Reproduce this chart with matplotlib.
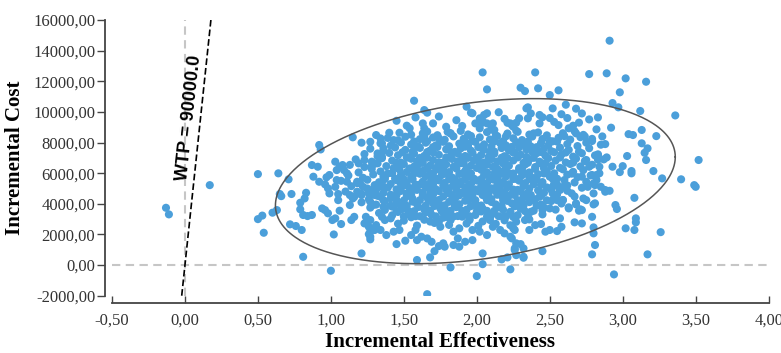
import math
import numpy as np
import matplotlib
matplotlib.use("Agg")
import matplotlib.pyplot as plt
from matplotlib.ticker import FuncFormatter

# --- chart values ---------------------------------------------------------
WTP = 90000.0
X_TICKS = [-0.5, 0.0, 0.5, 1.0, 1.5, 2.0, 2.5, 3.0, 3.5, 4.0]
Y_TICKS = [-2000, 0, 2000, 4000, 6000, 8000, 10000, 12000, 14000, 16000]

# confidence ellipse (centre, x radius, y amplitude on cos / sin)
ELL_CENTER = (1.99, 5480)
ELL_RX = 1.37
ELL_RY_COS = 1580
ELL_RY_SIN = 5150

# dense middle of the cloud, read band by band
core_pts = [
    (1.47, 8640), (1.55, 8510), (1.66, 8720), (1.73, 8480), (1.82, 8600), (1.89, 8760), (1.94, 8530),
    (2.07, 8680), (2.13, 8460), (2.21, 8590), (2.27, 8770), (2.36, 8520), (2.42, 8660), (2.48, 8470),
    (2.59, 8610), (2.67, 8740), (2.73, 8500),
    (1.39, 8300), (1.46, 8150), (1.51, 8380), (1.61, 8220), (1.66, 8090), (1.70, 8330), (1.78, 8180),
    (1.84, 8400), (1.91, 8250), (1.97, 8110), (2.02, 8340), (2.09, 8200), (2.14, 8420), (2.18, 8090),
    (2.25, 8280), (2.31, 8160), (2.38, 8390), (2.45, 8230), (2.50, 8100), (2.56, 8310), (2.64, 8190),
    (2.71, 8350), (2.79, 8240),
    (1.34, 7950), (1.41, 7800), (1.48, 8010), (1.55, 7870), (1.60, 7740), (1.65, 7990), (1.72, 7820),
    (1.77, 8050), (1.81, 7760), (1.88, 7930), (1.94, 7790), (1.99, 8040), (2.05, 7880), (2.10, 7740),
    (2.16, 7960), (2.20, 7810), (2.27, 8030), (2.32, 7880), (2.37, 7750), (2.44, 7970), (2.49, 7830),
    (2.55, 8060), (2.62, 7900), (2.69, 7770), (2.75, 7990), (2.85, 7860),
    (1.27, 7600), (1.36, 7450), (1.44, 7680), (1.51, 7520), (1.56, 7400), (1.61, 7650), (1.68, 7480),
    (1.73, 7710), (1.79, 7560), (1.85, 7390), (1.89, 7620), (1.96, 7470), (2.01, 7700), (2.05, 7530),
    (2.12, 7410), (2.17, 7640), (2.22, 7490), (2.29, 7690), (2.34, 7550), (2.38, 7390), (2.46, 7600),
    (2.51, 7440), (2.57, 7670), (2.63, 7520), (2.70, 7400), (2.77, 7630),
    (1.23, 7250), (1.32, 7100), (1.40, 7320), (1.46, 7170), (1.53, 7040), (1.57, 7290), (1.64, 7130),
    (1.70, 7360), (1.74, 7200), (1.81, 7050), (1.87, 7280), (1.92, 7120), (1.97, 7340), (2.03, 7190),
    (2.08, 7040), (2.12, 7270), (2.19, 7110), (2.25, 7350), (2.30, 7210), (2.34, 7060), (2.41, 7300),
    (2.47, 7140), (2.53, 7370), (2.58, 7220), (2.66, 7080), (2.72, 7300), (2.81, 7160),
    (1.17, 6900), (1.28, 6750), (1.35, 6980), (1.42, 6820), (1.48, 6690), (1.55, 6940), (1.59, 6780),
    (1.66, 7010), (1.70, 6860), (1.77, 6700), (1.83, 6930), (1.87, 6770), (1.94, 7000), (1.98, 6840),
    (2.05, 6690), (2.10, 6920), (2.14, 6760), (2.21, 6990), (2.25, 6830), (2.32, 6680), (2.36, 6910),
    (2.43, 6750), (2.49, 6980), (2.54, 6820), (2.61, 6700), (2.68, 6950), (2.74, 6790), (2.83, 6880),
    (1.13, 6540), (1.23, 6400), (1.30, 6620), (1.38, 6460), (1.46, 6340), (1.50, 6590), (1.57, 6430),
    (1.61, 6660), (1.68, 6500), (1.72, 6350), (1.79, 6580), (1.84, 6420), (1.89, 6650), (1.96, 6490),
    (2.00, 6340), (2.07, 6570), (2.11, 6410), (2.18, 6640), (2.22, 6480), (2.29, 6330), (2.33, 6560),
    (2.40, 6400), (2.44, 6630), (2.51, 6470), (2.57, 6350), (2.64, 6600), (2.71, 6440), (2.79, 6550),
    (1.09, 6200), (1.19, 6050), (1.28, 6270), (1.34, 6110), (1.42, 5990), (1.47, 6240), (1.52, 6080),
    (1.59, 6310), (1.63, 6150), (1.70, 6000), (1.74, 6230), (1.81, 6070), (1.86, 6300), (1.92, 6140),
    (1.96, 5990), (2.03, 6220), (2.07, 6060), (2.14, 6290), (2.18, 6130), (2.25, 5980), (2.29, 6210),
    (2.36, 6050), (2.40, 6280), (2.48, 6120), (2.53, 5990), (2.59, 6250), (2.66, 6090), (2.73, 6200),
    (1.12, 5850), (1.22, 5700), (1.29, 5920), (1.37, 5760), (1.44, 5640), (1.48, 5890), (1.55, 5730),
    (1.61, 5960), (1.65, 5800), (1.72, 5650), (1.76, 5880), (1.83, 5720), (1.88, 5950), (1.94, 5790),
    (1.98, 5640), (2.05, 5870), (2.09, 5710), (2.16, 5940), (2.20, 5780), (2.27, 5630), (2.31, 5860),
    (2.38, 5700), (2.42, 5930), (2.50, 5770), (2.55, 5640), (2.62, 5900), (2.69, 5740), (2.78, 5850),
    (1.07, 5500), (1.18, 5350), (1.25, 5570), (1.33, 5410), (1.41, 5290), (1.45, 5540), (1.52, 5380),
    (1.56, 5610), (1.63, 5450), (1.67, 5300), (1.74, 5530), (1.78, 5370), (1.85, 5600), (1.89, 5440),
    (1.96, 5290), (2.00, 5520), (2.07, 5360), (2.11, 5590), (2.18, 5430), (2.22, 5280), (2.29, 5510),
    (2.33, 5350), (2.41, 5580), (2.45, 5420), (2.53, 5300), (2.60, 5550), (2.67, 5390),
    (1.14, 5150), (1.25, 5000), (1.30, 5220), (1.39, 5060), (1.45, 4940), (1.50, 5190), (1.54, 5030),
    (1.61, 5260), (1.65, 5100), (1.72, 4950), (1.77, 5180), (1.81, 5020), (1.88, 5250), (1.92, 5090),
    (1.99, 4940), (2.03, 5170), (2.10, 5010), (2.14, 5240), (2.21, 5080), (2.25, 4930), (2.32, 5160),
    (2.36, 5000), (2.44, 5230), (2.48, 5070), (2.57, 4950), (2.62, 5200), (2.72, 5050),
    (1.10, 4800), (1.21, 4650), (1.27, 4870), (1.36, 4710), (1.41, 4590), (1.48, 4840), (1.52, 4680),
    (1.59, 4910), (1.63, 4750), (1.70, 4600), (1.74, 4830), (1.81, 4670), (1.86, 4900), (1.90, 4740),
    (1.97, 4590), (2.01, 4820), (2.08, 4660), (2.12, 4890), (2.19, 4730), (2.23, 4580), (2.30, 4810),
    (2.34, 4650), (2.42, 4880), (2.46, 4720), (2.55, 4600), (2.62, 4850),
    (1.16, 4450), (1.26, 4300), (1.32, 4520), (1.41, 4360), (1.45, 4240), (1.52, 4490), (1.56, 4330),
    (1.63, 4560), (1.66, 4400), (1.74, 4250), (1.77, 4480), (1.85, 4320), (1.88, 4550), (1.96, 4390),
    (1.99, 4240), (2.06, 4470), (2.10, 4310), (2.17, 4540), (2.21, 4380), (2.28, 4230), (2.32, 4460),
    (2.40, 4300), (2.44, 4530), (2.53, 4370), (2.59, 4250), (2.67, 4480),
    (1.21, 4100), (1.31, 3950), (1.37, 4170), (1.45, 4010), (1.48, 3890), (1.56, 4140), (1.59, 3980),
    (1.67, 4210), (1.70, 4050), (1.78, 3900), (1.81, 4130), (1.88, 3970), (1.92, 4200), (1.99, 4040),
    (2.03, 3890), (2.10, 4120), (2.13, 3960), (2.21, 4190), (2.24, 4030), (2.32, 3880), (2.36, 4110),
    (2.44, 3950), (2.51, 4180), (2.58, 4020),
    (1.27, 3750), (1.37, 3600), (1.42, 3820), (1.49, 3660), (1.53, 3540), (1.60, 3790), (1.64, 3630),
    (1.71, 3860), (1.75, 3700), (1.82, 3550), (1.86, 3780), (1.93, 3620), (1.96, 3850), (2.04, 3690),
    (2.07, 3540), (2.15, 3770), (2.18, 3610), (2.26, 3840), (2.30, 3680), (2.39, 3550), (2.46, 3760),
    (2.54, 3620),
    (1.33, 3400), (1.42, 3250), (1.46, 3470), (1.54, 3310), (1.58, 3190), (1.65, 3440), (1.69, 3280),
    (1.76, 3510), (1.80, 3350), (1.87, 3200), (1.91, 3430), (1.99, 3270), (2.03, 3500), (2.11, 3340),
    (2.15, 3190), (2.23, 3420), (2.28, 3260), (2.37, 3480), (2.45, 3310),
    (1.41, 3050), (1.50, 2900), (1.55, 3120), (1.64, 2960), (1.68, 2840), (1.77, 3090), (1.82, 2930),
    (1.90, 3160), (1.95, 3000), (2.04, 2850), (2.09, 3080), (2.19, 2920), (2.25, 3140), (2.36, 2980),
    (1.46, 2700), (1.59, 2580), (1.71, 2750), (1.81, 2620), (1.93, 2710), (2.01, 2560), (2.13, 2690),
    (2.23, 2600),
]

# extra points filling the most crowded centre
centre_pts = [
    (1.64, 8420), (1.96, 8430), (2.20, 8410), (2.60, 8420),
    (1.57, 8070), (1.75, 8060), (1.92, 8080), (2.12, 8070), (2.35, 8060), (2.52, 8080),
    (1.58, 7720), (1.70, 7700), (1.92, 7730), (2.03, 7690), (2.24, 7720), (2.41, 7700),
    (1.49, 7360), (1.66, 7380), (1.83, 7350), (2.09, 7370), (2.26, 7360), (2.44, 7380), (2.61, 7350),
    (1.52, 7020), (1.61, 7000), (1.79, 7030), (1.90, 7000), (2.00, 7020), (2.17, 7010), (2.28, 7030),
    (2.39, 7000), (2.57, 7020),
    (1.45, 6680), (1.63, 6670), (1.74, 6690), (1.91, 6660), (2.02, 6690), (2.19, 6670), (2.35, 6680),
    (2.47, 6660), (2.66, 6690),
    (1.43, 6320), (1.54, 6310), (1.66, 6330), (1.77, 6310), (1.93, 6320), (2.04, 6300), (2.20, 6330),
    (2.31, 6310), (2.46, 6320),
    (1.39, 5980), (1.57, 5970), (1.68, 5990), (1.79, 5960), (1.90, 5980), (2.12, 5970), (2.22, 5990),
    (2.34, 5960), (2.46, 5980), (2.65, 5970),
    (1.37, 5620), (1.50, 5610), (1.69, 5630), (1.81, 5610), (1.92, 5620), (2.03, 5610), (2.14, 5630),
    (2.25, 5620), (2.36, 5610), (2.52, 5630),
    (1.35, 5270), (1.48, 5280), (1.58, 5260), (1.70, 5270), (1.84, 5260), (1.95, 5280), (2.06, 5260),
    (2.17, 5270), (2.39, 5280), (2.55, 5260),
    (1.31, 4920), (1.57, 4920), (1.68, 4910), (1.79, 4930), (1.95, 4910), (2.06, 4920), (2.16, 4930),
    (2.28, 4910), (2.51, 4920),
    (1.30, 4570), (1.45, 4580), (1.55, 4570), (1.68, 4590), (1.83, 4570), (1.93, 4580), (2.04, 4570),
    (2.14, 4590), (2.26, 4570), (2.37, 4580),
    (1.36, 4230), (1.50, 4220), (1.61, 4240), (1.71, 4220), (1.83, 4230), (1.94, 4220), (2.07, 4240),
    (2.18, 4230), (2.36, 4220), (2.48, 4230),
    (1.41, 3880), (1.52, 3870), (1.65, 3890), (1.75, 3880), (1.85, 3870), (2.00, 3880), (2.17, 3870),
    (2.28, 3890), (2.41, 3880),
    (1.45, 3530), (1.57, 3520), (1.68, 3540), (1.79, 3520), (1.90, 3530), (2.00, 3520), (2.12, 3540),
    (2.33, 3520),
    (1.50, 3170), (1.61, 3190), (1.72, 3180), (1.84, 3170), (1.95, 3190), (2.07, 3170), (2.20, 3180),
]

upper_pts = [
    (1.57, 10730), (1.93, 10340), (1.96, 9950), (1.66, 9950), (1.58, 9640), (2.07, 9910), (1.54, 8930),
    (1.40, 8640), (1.43, 8160), (1.34, 8270), (1.63, 9250), (1.64, 8930), (1.70, 9250), (1.79, 9030),
    (1.80, 8700), (1.90, 9080), (1.99, 9250), (2.02, 8930), (2.04, 9400), (2.11, 9250), (2.11, 8820),
    (2.21, 9290), (2.24, 9140), (2.27, 9290), (2.28, 8700), (2.04, 12580), (2.07, 11470), (2.30, 11580),
    (2.33, 11360), (2.42, 11540), (2.40, 12580), (2.56, 11410), (2.50, 11100), (2.77, 12470),
    (2.89, 12520), (3.02, 12190), (3.16, 11970), (2.98, 11280), (2.91, 14650), (2.93, 10580),
    (2.97, 10300), (3.12, 10060), (3.36, 9770), (2.61, 10470), (2.68, 10210), (2.34, 10230),
    (2.35, 10300), (2.52, 10230), (1.64, 10120), (1.97, 9910), (2.02, 9580), (2.05, 9800), (2.07, 9250),
    (2.03, 9250), (2.10, 8930), (2.12, 8820), (2.23, 9250), (2.25, 9030), (2.29, 9580), (2.35, 9580),
    (2.43, 9800), (2.43, 9250), (2.39, 8600), (1.63, 8600), (1.74, 8270), (1.82, 8600), (1.45, 9420),
    (1.52, 9100), (1.74, 9700), (1.86, 9460), (2.15, 9980), (2.19, 9550), (2.37, 9900), (2.45, 9650),
    (2.53, 9350), (2.58, 9850), (2.62, 9600), (2.70, 9300), (2.72, 9900), (2.56, 9140), (2.63, 8930),
    (2.68, 8600), (2.74, 8400), (2.50, 9600), (2.66, 9100), (2.79, 8100), (2.88, 7900), (2.86, 8400),
    (2.83, 9640), (2.77, 9510), (2.92, 8970), (2.82, 8860), (3.04, 8550), (3.07, 8490), (3.13, 8820),
    (3.23, 8420),
]

right_pts = [
    (3.13, 7950), (3.17, 7620), (3.15, 7330), (3.16, 6860), (3.03, 7120), (3.00, 6460), (2.98, 6070),
    (3.06, 5990), (3.06, 6140), (3.21, 6140), (3.27, 5660), (3.40, 5600), (3.49, 5220), (3.50, 5110),
    (3.52, 6860), (2.93, 6420), (2.89, 7030), (2.83, 7230), (2.87, 6900), (2.84, 5990), (3.08, 4390),
    (2.95, 3920), (2.96, 3660), (3.09, 3050), (3.09, 2790), (3.02, 2400), (3.08, 2290), (3.26, 2150),
    (3.17, 700), (2.94, -610), (2.79, 700), (2.81, 1310), (2.80, 2070), (2.80, 2460), (2.79, 3150),
    (2.80, 3960), (2.75, 4240), (2.70, 3550), (2.67, 2790), (2.72, 2720), (2.45, 910), (2.23, -280),
    (2.83, 7180), (2.75, 6860), (2.77, 6420), (2.84, 6420), (2.79, 5880), (2.82, 5880), (2.85, 5110),
    (2.88, 4900), (2.91, 4850), (2.81, 5220), (2.75, 5440), (2.72, 5770), (2.81, 4030), (2.72, 3590),
    (2.80, 4680), (2.73, 4350), (2.76, 5110), (2.80, 5330), (2.82, 5550), (2.88, 4790),
]

lower_pts = [
    (1.66, -1900), (1.59, 330), (1.68, 500), (1.82, -150), (2.00, -720), (2.04, 760), (2.04, 60),
    (2.17, 370), (2.21, 500), (2.26, 980), (2.27, 650), (1.45, 1370), (1.51, 1590), (1.59, 1630),
    (1.62, 1850), (1.71, 910), (1.74, 1240), (1.78, 1200), (1.88, 1200), (1.87, 1740), (1.92, 1520),
    (1.69, 1520), (1.66, 1740), (1.38, 1960), (1.43, 2180), (1.47, 2290), (1.55, 1960), (1.58, 2290),
    (1.97, 2290), (2.02, 2180), (2.07, 1960), (2.11, 2500), (2.16, 2290), (2.09, 2940), (1.95, 2940),
    (1.88, 2400), (1.84, 2180), (1.75, 2500), (1.74, 2830), (1.79, 3150), (2.19, 2070), (2.24, 1740),
    (2.27, 1420), (2.26, 2290), (1.27, 1850), (1.27, 2180), (1.26, 2500), (1.30, 2290), (1.31, 2610),
    (1.77, 1420), (1.84, 1310), (1.97, 1630), (2.32, 480), (2.30, 1370), (2.44, 2680), (2.47, 2180),
    (2.50, 2290), (2.55, 2220), (2.58, 2500), (2.57, 3050), (2.45, 3810), (2.39, 4240), (2.31, 4130),
    (2.35, 3150), (2.33, 2940), (2.23, 3480), (2.18, 3150), (2.68, 3960), (2.71, 3640), (2.63, 3770),
    (2.55, 4240), (2.52, 4680), (2.57, 4900), (2.40, 2610), (2.36, 2290), (2.27, 2830), (2.25, 2400),
    (2.23, 1850), (2.32, 1090), (2.32, 540), (2.26, 1090), (2.59, 4240), (2.50, 3700), (2.45, 3590),
    (2.43, 4460), (2.63, 3700), (2.68, 4030), (2.65, 4680), (2.59, 5110), (2.52, 5110), (1.21, 760),
    (1.00, -370), (0.81, 540),
]

left_pts = [
    (-0.13, 3740), (-0.11, 3310), (0.17, 5220), (0.50, 5940), (0.50, 3000), (0.53, 3230), (0.64, 5990),
    (0.54, 2110), (0.60, 3420), (0.63, 3590), (0.65, 4640), (0.66, 4500), (0.71, 5600), (0.73, 4640),
    (0.72, 2660), (0.76, 2550), (0.80, 2290), (0.92, 7840), (0.93, 7550), (0.87, 6530), (0.91, 6420),
    (0.88, 5770), (0.79, 4070), (0.82, 4350), (0.79, 3640), (0.81, 3270), (0.84, 3200), (0.87, 3270),
    (0.83, 4720), (0.92, 5440), (0.96, 5270), (0.98, 5010), (0.99, 4680), (0.94, 3700), (0.96, 3590),
    (0.98, 3380), (0.97, 5730), (0.99, 5880), (1.03, 6750), (1.04, 6200), (1.06, 6420), (1.08, 6530),
    (1.04, 5550), (1.03, 5110), (1.05, 4640), (1.05, 4240), (1.06, 3550), (1.01, 2940), (1.03, 3050),
    (1.07, 2680), (1.02, 2000), (1.11, 5990), (1.11, 5440), (1.13, 4570), (1.15, 4350), (1.13, 3920),
    (1.14, 2940), (1.16, 3150), (1.15, 8340), (1.21, 7990), (1.27, 8050), (1.31, 8490), (1.19, 6640),
    (1.23, 6860), (1.28, 6460), (1.18, 5440), (1.20, 5330), (1.22, 5110), (1.18, 4790), (1.21, 4570),
    (1.26, 4680), (1.27, 4130), (1.29, 3920), (1.24, 3150), (1.27, 2940), (1.23, 2720), (1.31, 2500),
    (1.34, 2290), (1.26, 2020), (1.27, 1680), (1.35, 7950), (1.36, 7620), (1.32, 7290), (1.35, 7070),
    (1.32, 6640), (1.36, 5770), (1.35, 5110), (1.34, 4460), (1.36, 3810), (1.35, 3150), (1.37, 2940),
]

# --- drawing ---------------------------------------------------------------
DOT = "#4b9fda"
GRID = "#c6c6c6"
AXIS = "#444444"
TXT = "#333333"

fig = plt.figure(figsize=(7.81, 3.53), dpi=100)
ax = fig.add_axes([0.1434, 0.1623, 0.8408, 0.7810])
ax.set_xlim(-0.5, 4.0)
ax.set_ylim(-2000, 16000)

ax.axhline(0, color=GRID, lw=1.5, ls=(0, (4, 2.6)), zorder=1)
ax.axvline(0, color=GRID, lw=1.5, ls=(0, (4, 2.6)), zorder=1)

wtp_y = np.array([-2000, 16000])
ax.plot(wtp_y / WTP, wtp_y, color="black", lw=1.2, ls=(0, (4, 1.8)), zorder=2)

all_pts = core_pts + centre_pts + upper_pts + right_pts + lower_pts + left_pts
xs = [p[0] for p in all_pts]
ys = [p[1] for p in all_pts]
ax.scatter(xs, ys, s=34, color=DOT, edgecolors="none", zorder=3)

t = np.linspace(0, 2 * np.pi, 400)
ex = ELL_CENTER[0] + ELL_RX * np.cos(t)
ey = ELL_CENTER[1] + ELL_RY_COS * np.cos(t) + ELL_RY_SIN * np.sin(t)
ax.plot(ex, ey, color="#555555", lw=1.1, zorder=4)

# label along the WTP line
p1 = ax.transData.transform((-2000 / WTP, -2000))
p2 = ax.transData.transform((16000 / WTP, 16000))
angle = math.degrees(math.atan2(p2[1] - p1[1], p2[0] - p1[0]))
ax.text(0.027, 9600, f"WTP = {WTP:.1f}", rotation=angle, rotation_mode="anchor",
        ha="center", va="center", fontsize=13, fontweight="bold",
        family="Liberation Sans", color="black", zorder=5)

# axes styling
for side in ("top", "right"):
    ax.spines[side].set_visible(False)
ax.spines["left"].set_position(("outward", 5))
ax.spines["bottom"].set_position(("outward", 5.5))
for side in ("left", "bottom"):
    ax.spines[side].set_color(AXIS)
    ax.spines[side].set_linewidth(1.3)

ax.set_xticks(X_TICKS)
ax.set_yticks(Y_TICKS)
comma = FuncFormatter(lambda v, _: f"{v:.2f}".replace(".", ","))
ax.xaxis.set_major_formatter(comma)
ax.yaxis.set_major_formatter(comma)
ax.tick_params(axis="x", direction="in", length=5, width=1, color=AXIS, pad=7,
               labelsize=12, labelcolor=TXT)
ax.tick_params(axis="y", direction="out", length=5.5, width=1, color=AXIS, pad=1.5,
               labelsize=12, labelcolor=TXT)
for lab in ax.get_xticklabels() + ax.get_yticklabels():
    lab.set_family("Liberation Serif")

ax.set_xlabel("Incremental Effectiveness", family="Liberation Serif", fontsize=15,
              fontweight="bold", labelpad=2)
ax.set_ylabel("Incremental Cost", family="Liberation Serif", fontsize=15,
              fontweight="bold", labelpad=6)

fig.savefig("out.png", dpi=100)
